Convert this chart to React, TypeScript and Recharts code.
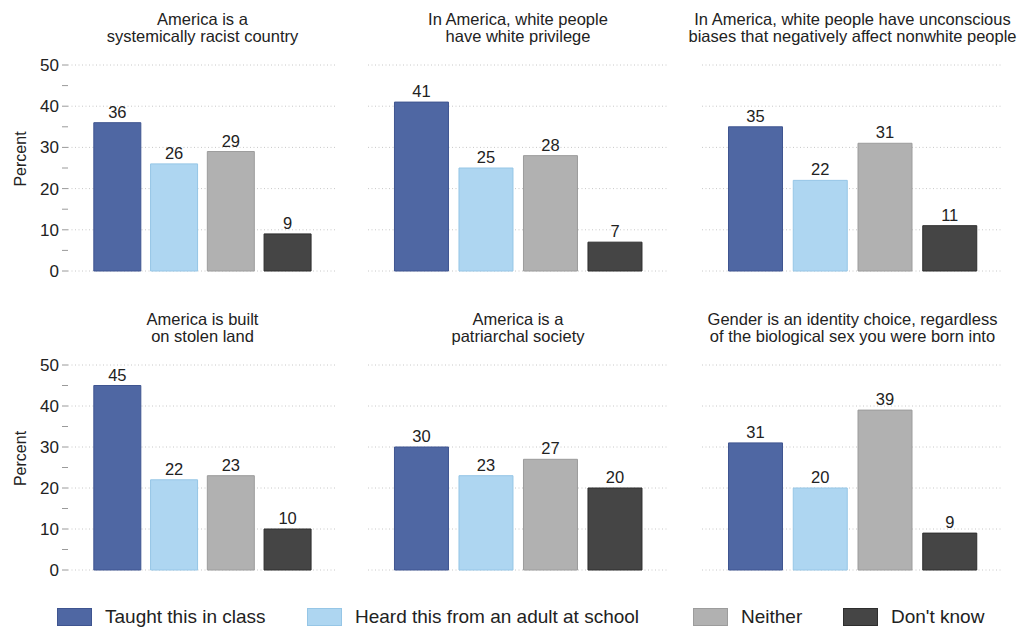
import React from 'react'
import { BarChart, Bar, XAxis, YAxis, CartesianGrid, Cell, LabelList } from 'recharts'

// response categories (legend order)
const categories = ['Taught this in class', 'Heard this from an adult at school', 'Neither', "Don't know"]
const colors = ['#4f67a3', '#aed6f1', '#b1b1b1', '#454545']
const borders = ['#3f5590', '#96c6e6', '#9c9c9c', '#2e2e2e']

// panel titles, two lines each
const titles = [
  ['America is a', 'systemically racist country'],
  ['In America, white people', 'have white privilege'],
  ['In America, white people have unconscious', 'biases that negatively affect nonwhite people'],
  ['America is built', 'on stolen land'],
  ['America is a', 'patriarchal society'],
  ['Gender is an identity choice, regardless', 'of the biological sex you were born into'],
]

// percent per category, one array per panel
const racistCountry = [36, 26, 29, 9]
const whitePrivilege = [41, 25, 28, 7]
const unconsciousBias = [35, 22, 31, 11]
const stolenLand = [45, 22, 23, 10]
const patriarchal = [30, 23, 27, 20]
const genderChoice = [31, 20, 39, 9]

const panelValues = [racistCountry, whitePrivilege, unconsciousBias, stolenLand, patriarchal, genderChoice]

const yTicks = [0, 5, 10, 15, 20, 25, 30, 35, 40, 45, 50]
const gridValues = [0, 10, 20, 30, 40, 50]

const font = '"Liberation Sans", Arial, Helvetica, sans-serif'

// column layout: chart left, chart width, plot margins
const cols = [
  { left: 0, width: 340, ml: 0, mr: 3, axis: true },
  { left: 340, width: 340, ml: 28, mr: 12, axis: false },
  { left: 670, width: 349, ml: 32, mr: 16, axis: false },
]

// where each legend key starts
const legendLefts = [57, 307, 693, 843]

// rotated axis title, sits a little above the plot centre like the original
function PercentLabel(props: any) {
  const vb = props.viewBox || { x: 0, y: 0, width: 0, height: 0 }
  const cx = vb.x + 20
  const cy = vb.y + vb.height / 2 - 9
  return (
    <text
      x={cx}
      y={cy}
      transform={`rotate(-90 ${cx} ${cy})`}
      textAnchor="middle"
      dominantBaseline="central"
      fill="#222"
      fontSize={16}
      fontFamily={font}
    >
      Percent
    </text>
  )
}

function Panel({ idx }: { idx: number }) {
  const col = cols[idx % 3]
  const row = Math.floor(idx / 3)
  const top = row * 300
  const data = categories.map((c, i) => ({ name: c, value: panelValues[idx][i] }))
  const plotLeft = col.axis ? 68 : col.ml
  const plotRight = col.width - col.mr
  return (
    <div style={{ position: 'absolute', left: col.left, top, width: col.width, height: 300 }}>
      <div
        style={{
          position: 'absolute',
          top: 11,
          left: plotLeft - 60,
          width: plotRight - plotLeft + 120,
          textAlign: 'center',
          fontSize: 16.5,
          lineHeight: '17px',
          color: '#222',
          fontFamily: font,
          whiteSpace: 'nowrap',
        }}
      >
        {titles[idx].map(t => (
          <div key={t}>{t}</div>
        ))}
      </div>
      <BarChart
        width={col.width}
        height={300}
        data={data}
        margin={{ top: 65, right: col.mr, left: col.ml, bottom: row === 0 ? 29 : 30 }}
        barCategoryGap="8.5%"
        style={{ position: 'absolute', left: 0, top: 0 }}
      >
        <CartesianGrid
          vertical={false}
          horizontalValues={gridValues}
          stroke="#c8c8c8"
          strokeDasharray="1 2.5"
        />
        <XAxis dataKey="name" hide padding={{ left: 21, right: 21 }} />
        <YAxis
          domain={[0, 50]}
          ticks={yTicks}
          interval={0}
          hide={!col.axis}
          width={68}
          axisLine={false}
          tickLine={{ stroke: '#9a9a9a' }}
          tickSize={6}
          tickMargin={3}
          tick={{ fill: '#222', fontSize: 17, fontFamily: font }}
          tickFormatter={(v: number) => (v % 10 === 0 ? String(v) : '')}
          label={<PercentLabel />}
        />
        <Bar dataKey="value" isAnimationActive={false}>
          {data.map((d, i) => (
            <Cell key={d.name} fill={colors[i]} stroke={borders[i]} strokeWidth={1} />
          ))}
          <LabelList
            dataKey="value"
            position="top"
            offset={5}
            style={{ fill: '#222', fontSize: 16.5, fontFamily: font }}
          />
        </Bar>
      </BarChart>
    </div>
  )
}

export default function App() {
  return (
    <div
      style={{
        position: 'absolute',
        left: 0,
        top: 0,
        width: 1019,
        height: 629,
        background: '#fff',
        overflow: 'hidden',
        fontFamily: font,
      }}
    >
      {titles.map((t, i) => (
        <Panel key={i} idx={i} />
      ))}
      {categories.map((c, i) => (
        <div
          key={c}
          style={{
            position: 'absolute',
            left: legendLefts[i],
            top: 606,
            display: 'flex',
            alignItems: 'center',
            fontSize: 19,
            lineHeight: '22px',
            color: '#222',
            whiteSpace: 'nowrap',
          }}
        >
          <span
            style={{
              display: 'inline-block',
              width: 35,
              height: 18,
              background: colors[i],
              border: `1px solid ${borders[i]}`,
              boxSizing: 'border-box',
              marginRight: 13,
            }}
          />
          <span>{c}</span>
        </div>
      ))}
    </div>
  )
}
